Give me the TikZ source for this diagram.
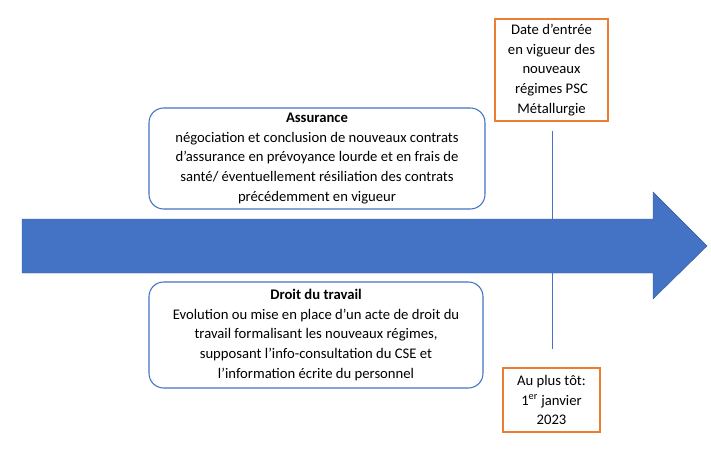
\documentclass[tikz,border=0pt]{standalone}
\usepackage{fontspec}
\setmainfont{Carlito}
\usepackage{tikz}
\usetikzlibrary{positioning,calc}
\definecolor{officeblue}{HTML}{4472C4}
\definecolor{officeorange}{HTML}{ED7D31}
\tikzset{
  % Base styles
  timeline base/.style={
    x=0.75pt, y=-0.75pt,
    every node/.style={font=\fontsize{11}{14.7}\selectfont},
  },
  % Boxes
  phase box/.style={rectangle, draw=officeblue, line width=0.8pt, rounded corners=11pt, fill=white, align=center, inner sep=2pt},
  date box/.style={rectangle, draw=officeorange, line width=0.8pt, fill=white, align=center, inner sep=2pt},
  % Timeline
  time arrow/.style={fill=officeblue, draw=officeblue!80!black, line width=0.3pt},
  tick line/.style={draw=officeblue, line width=0.75pt},
}

\begin{document}
\begin{tikzpicture}[timeline base]
\useasboundingbox (0,0) rectangle (711,453);

% Tick marking the start date
\coordinate (tickTop) at (552,131);
\coordinate (tickBot) at (552,349);
\draw[tick line] (tickTop) -- (tickBot);

% Main timeline arrow
\draw[time arrow] (22,219) -- (653,219) -- (653,192) -- (707,246)
  -- (653,299) -- (653,273) -- (22,273) -- cycle;

% Phases
\node[phase box, minimum width=252pt, minimum height=75.75pt] (assur) at (317,158.5)
  {\textbf{Assurance}\\
   négociation et conclusion de nouveaux contrats\\
   d’assurance en prévoyance lourde et en frais de\\
   santé/ éventuellement résiliation des contrats\\
   précédemment en vigueur};
\node[phase box, minimum width=250.5pt, minimum height=79.5pt] (droit) at (316,335)
  {\textbf{Droit du travail}\\
   Evolution ou mise en place d’un acte de droit du\\
   travail formalisant les nouveaux régimes,\\
   supposant l’info-consultation du CSE et\\
   l’information écrite du personnel};

% Dates
\node[date box, minimum width=84.75pt, minimum height=76.5pt] (dateVig) at (551.5,70)
  {Date d’entrée\\ en vigueur des\\ nouveaux\\ régimes PSC\\ Métallurgie};
\node[date box, minimum width=72.75pt, minimum height=48pt] (datePlus) at (551.5,400)
  {Au plus tôt:\\ 1\textsuperscript{er} janvier\\ 2023};
\end{tikzpicture}
\end{document}
